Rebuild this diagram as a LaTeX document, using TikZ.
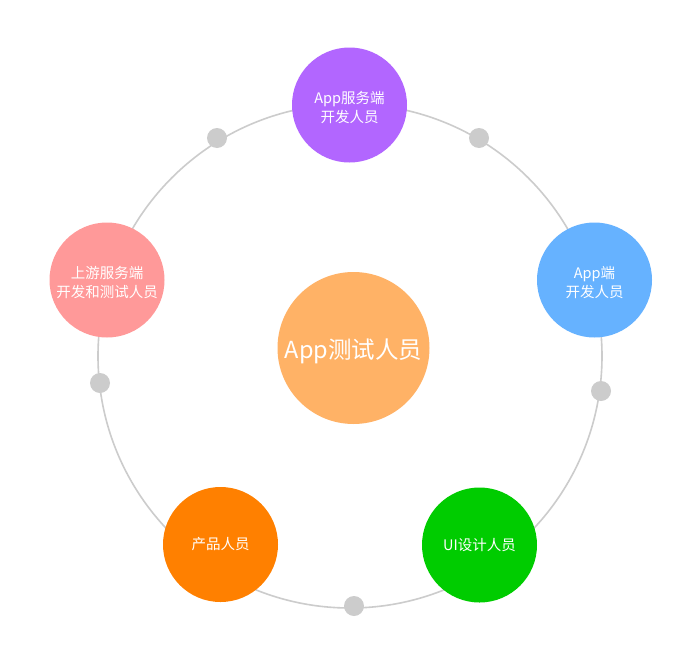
\documentclass[tikz,border=0pt]{standalone}
\usepackage{fontspec}
\setmainfont{Noto Sans CJK SC}
\begin{document}
\begin{tikzpicture}[x=1pt,y=-1pt,
  role/.style={circle,minimum size=115pt,inner sep=0pt,text=white,align=center,
    font=\fontsize{14.5}{19}\selectfont},
  lower/.style={text depth=-6pt},
  hub/.style={circle,minimum size=152pt,inner sep=0pt,text=white,fill=hubc,
    font=\fontsize{23.5}{28}\selectfont},
  knot/.style={circle,minimum size=20pt,inner sep=0pt,fill=ringc},
  ring/.style={draw=ringc,line width=1.6pt}]
\definecolor{ringc}{HTML}{CCCCCC}
\definecolor{hubc}{HTML}{FFB266}
\definecolor{purplec}{HTML}{B266FF}
\definecolor{bluec}{HTML}{66B2FF}
\definecolor{greenc}{HTML}{00CC00}
\definecolor{orangec}{HTML}{FF8000}
\definecolor{pinkc}{HTML}{FF9999}
\useasboundingbox[fill=white] (0,0) rectangle (683,648);
\coordinate (o) at (350,356);
\draw[ring] (o) circle[radius=252pt];
\node[knot] (d1) at (217,138) {};
\node[knot] (d2) at (479,138) {};
\node[knot] (d3) at (601,391) {};
\node[knot] (d4) at (354,606) {};
\node[knot] (d5) at (100,383) {};
\node[role,fill=purplec] (top) at (349.5,105) {};
\node[role,fill=bluec] (right) at (594.5,280) {};
\node[role,fill=greenc] (br) at (479.5,545) {UI设计人员};
\node[role,fill=orangec] (bl) at (220.5,544.5) {产品人员};
\node[role,fill=pinkc] (left) at (107,280) {};
\node[hub] (c) at (353.5,348) {};
\node[role,fill=none,minimum size=0pt] (topt) at ([yshift=-3pt]top.center) {App服务端\\开发人员};
\node[role,fill=none,minimum size=0pt] (rightt) at ([yshift=-3pt]right.center) {App端\\开发人员};
\node[role,fill=none,minimum size=0pt] (leftt) at ([yshift=-3pt]left.center) {上游服务端\\开发和测试人员};
\node[hub,fill=none,minimum size=0pt] (ct) at ([yshift=-3pt]c.center) {App测试人员};
\end{tikzpicture}
\end{document}
